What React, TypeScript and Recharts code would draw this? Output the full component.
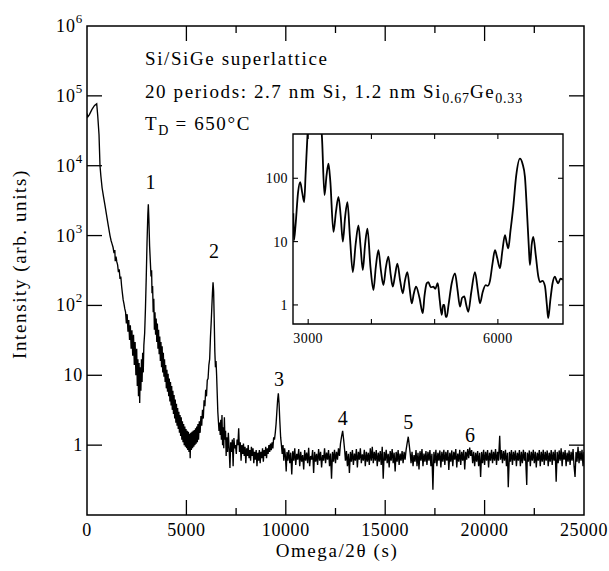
import React from 'react';
import { ComposedChart, Line, XAxis, YAxis, ReferenceArea, ReferenceDot } from 'recharts';

const SERIF = 'Liberation Serif, DejaVu Serif, serif';

// ---------------- Main scan: [omega/2theta (s), intensity (arb. units)] ----------------
const mainScan: [number, number][] = [
  [0, 56000], [40, 50000], [120, 54000], [250, 64000], [380, 73000], [488, 77000], [540, 52000], [604, 28000],
  [654, 10000], [700, 7000], [760, 4800], [830, 3600], [905, 2700], [980, 2000], [1060, 1450], [1157, 1000],
  [1210, 850], [1260, 760], [1310, 680], [1360, 560], [1400, 620], [1420, 430], [1460, 500], [1500, 420],
  [1540, 380], [1580, 300], [1620, 330], [1660, 240], [1700, 260], [1740, 190], [1780, 150], [1820, 120],
  [1860, 105], [1900, 90], [1940, 80], [1980, 55], [2020, 75], [2060, 42], [2100, 62], [2140, 32],
  [2180, 52], [2220, 24], [2260, 44], [2300, 19], [2340, 38], [2380, 14], [2420, 30], [2460, 10],
  [2500, 24], [2530, 7], [2560, 17], [2590, 5], [2620, 15], [2650, 4], [2680, 13], [2710, 6],
  [2740, 17], [2770, 8], [2800, 21], [2830, 11], [2860, 27], [2900, 40], [2940, 90], [2980, 250],
  [3020, 800], [3060, 2000], [3085, 2800], [3110, 1800], [3150, 700], [3190, 400], [3220, 260], [3250, 320],
  [3270, 150], [3300, 190], [3330, 80], [3360, 125], [3390, 45], [3420, 80], [3450, 38], [3480, 65],
  [3510, 30], [3540, 55], [3570, 24], [3600, 45], [3630, 20], [3660, 36], [3690, 16], [3720, 30],
  [3750, 13], [3780, 26], [3810, 11], [3840, 21], [3870, 9.5], [3900, 17], [3930, 8], [3960, 14],
  [3990, 6.5], [4020, 12], [4050, 5.8], [4080, 10.5], [4110, 5], [4140, 9], [4170, 4.2], [4200, 8],
  [4230, 3.7], [4260, 7], [4290, 3.2], [4320, 6], [4350, 2.8], [4380, 5.2], [4410, 2.4], [4440, 4.5],
  [4470, 2.1], [4500, 3.9], [4530, 1.9], [4560, 3.4], [4590, 1.7], [4620, 3.0], [4650, 1.5], [4680, 2.7],
  [4710, 1.35], [4740, 2.5], [4770, 1.2], [4800, 2.2], [4830, 1.1], [4860, 2.0], [4890, 1.0], [4920, 1.85],
  [4950, 0.95], [4980, 1.7], [5010, 0.9], [5040, 1.6], [5070, 0.85], [5100, 1.55], [5130, 0.8], [5160, 1.45],
  [5190, 0.65], [5220, 1.5], [5250, 0.85], [5280, 1.55], [5310, 0.9], [5340, 1.6], [5370, 0.95], [5400, 1.65],
  [5430, 1.0], [5460, 1.75], [5490, 1.05], [5520, 1.85], [5550, 1.1], [5580, 2.0], [5610, 1.2], [5650, 2.2],
  [5690, 1.5], [5730, 2.6], [5770, 1.9], [5810, 3.2], [5850, 2.4], [5890, 4.4], [5930, 3.6], [5970, 6.2],
  [6010, 5.0], [6050, 8.5], [6090, 9], [6130, 14], [6170, 17], [6210, 35], [6250, 60], [6280, 95],
  [6310, 150], [6340, 215], [6370, 160], [6400, 60], [6430, 22], [6460, 13], [6490, 16], [6520, 10],
  [6550, 5.5], [6580, 3], [6610, 2.2], [6640, 1.6], [6670, 2.1], [6700, 1.4], [6730, 2.3], [6760, 1.2],
  [6790, 2.7], [6820, 1.0], [6850, 1.8], [6880, 0.9], [6910, 2.5], [6940, 1.2], [6970, 1.6], [7000, 0.7],
  [7030, 1.3], [7070, 0.8], [7110, 1.5], [7150, 0.9], [7190, 0.47], [7230, 1.1], [7270, 0.8], [7310, 1.2],
  [7350, 0.5], [7390, 1.26], [7430, 0.9], [7470, 1.0], [7510, 0.75], [7550, 1.2], [7590, 1.0], [7630, 1.74],
  [7670, 0.8], [7710, 1.1], [7750, 0.6], [7790, 1.0], [7830, 0.75], [7870, 1.05], [7910, 0.7], [7950, 0.95],
  [7990, 0.55], [8030, 0.9], [8070, 0.7], [8110, 1.0], [8150, 0.65], [8190, 0.85], [8230, 0.6], [8270, 0.95],
  [8310, 0.7], [8350, 0.9], [8390, 0.55], [8430, 0.8], [8470, 0.62], [8510, 0.85], [8550, 0.5], [8590, 0.78],
  [8630, 0.6], [8670, 0.85], [8710, 0.55], [8750, 0.8], [8790, 0.65], [8830, 0.9], [8870, 0.58], [8910, 0.85],
  [8950, 0.7], [8990, 0.95], [9030, 0.65], [9070, 0.9], [9110, 0.75], [9150, 1.0], [9190, 0.8], [9230, 1.05],
  [9270, 0.85], [9310, 1.1], [9350, 0.9], [9390, 1.3], [9430, 1.2], [9470, 1.5], [9510, 2.0], [9550, 3.0],
  [9590, 4.5], [9625, 5.5], [9660, 4.0], [9700, 2.2], [9740, 1.3], [9780, 1.0], [9820, 0.75], [9860, 1.0],
  [9900, 0.6], [9940, 0.9], [9980, 0.7], [10020, 0.42], [10060, 0.8],
  [10100, 0.6], [10150, 0.85], [10200, 0.55], [10250, 0.78], [10300, 0.38], [10350, 0.82], [10400, 0.6], [10450, 0.9],
  [10500, 0.52], [10550, 0.75], [10600, 0.62], [10650, 0.88], [10700, 0.5], [10750, 0.8], [10800, 0.58], [10850, 0.72],
  [10900, 0.45], [10950, 0.85], [11000, 0.6], [11050, 0.78], [11100, 0.55], [11150, 0.92], [11200, 0.5], [11250, 0.7],
  [11300, 0.62], [11350, 0.85], [11400, 0.4], [11450, 0.8], [11500, 0.58], [11550, 0.75], [11600, 0.52], [11650, 0.88],
  [11700, 0.6], [11750, 0.8], [11800, 0.48], [11850, 0.72], [11900, 0.6], [11950, 0.9], [12000, 0.55], [12050, 0.78],
  [12100, 0.62], [12150, 0.85], [12200, 0.5], [12250, 0.76], [12300, 0.33], [12350, 0.8], [12400, 0.58], [12450, 0.86],
  [12500, 0.55], [12550, 0.8], [12600, 0.62], [12650, 0.9], [12700, 0.7], [12750, 1.05], [12800, 1.3], [12860, 1.6],
  [12910, 1.2], [12960, 0.85], [13000, 0.6], [13050, 0.82], [13100, 0.5], [13150, 0.75], [13200, 0.4], [13250, 0.8],
  [13300, 0.58], [13350, 0.85], [13400, 0.52], [13450, 0.76], [13500, 0.6], [13550, 0.88], [13600, 0.48], [13650, 0.8],
  [13700, 0.62], [13750, 0.9], [13800, 0.55], [13850, 0.74], [13900, 0.6], [13950, 0.86], [14000, 0.5], [14050, 0.8],
  [14100, 0.58], [14150, 0.78], [14200, 0.52], [14250, 0.9], [14300, 0.6], [14350, 0.95], [14400, 0.55], [14450, 0.8],
  [14500, 0.6], [14550, 0.85], [14600, 0.5], [14650, 0.78], [14700, 0.58], [14750, 0.82], [14800, 0.52], [14850, 0.95],
  [14900, 0.33], [14950, 0.8], [15000, 0.6], [15050, 0.86], [15100, 0.55], [15150, 0.75], [15200, 0.48], [15250, 0.82],
  [15300, 0.6], [15350, 0.88], [15400, 0.55], [15450, 0.78], [15500, 0.42], [15550, 0.8], [15600, 0.58], [15650, 0.85],
  [15700, 0.52], [15750, 0.76], [15800, 0.6], [15850, 0.82], [15900, 0.55], [15950, 0.8], [16000, 0.62], [16050, 0.85],
  [16100, 1.05], [16160, 1.32], [16210, 1.0], [16260, 0.75], [16300, 0.55], [16350, 0.8], [16400, 0.5], [16450, 0.72],
  [16500, 0.58], [16550, 0.85], [16600, 0.5], [16650, 0.78], [16700, 0.45], [16750, 0.82], [16800, 0.6], [16850, 0.88],
  [16900, 0.5], [16950, 0.76], [17000, 0.58], [17050, 0.82], [17100, 0.52], [17150, 0.8], [17200, 0.6], [17250, 0.85],
  [17300, 0.5], [17350, 0.75], [17400, 0.23], [17450, 0.8], [17500, 0.55], [17550, 0.86], [17600, 0.5], [17650, 0.78],
  [17700, 0.6], [17750, 0.84], [17800, 0.48], [17850, 0.8], [17900, 0.58], [17950, 0.86], [18000, 0.52], [18050, 0.8],
  [18100, 0.6], [18150, 0.85], [18200, 0.44], [18250, 0.78], [18300, 0.58], [18350, 0.84], [18400, 0.5], [18450, 0.8],
  [18500, 0.62], [18550, 0.88], [18600, 0.48], [18650, 0.76], [18700, 0.58], [18750, 0.86], [18800, 0.52], [18850, 0.8],
  [18900, 0.6], [18950, 0.85], [19000, 0.45], [19050, 0.8], [19100, 0.62], [19150, 0.88], [19200, 0.65], [19250, 0.92],
  [19300, 0.7], [19350, 0.85], [19400, 0.55], [19450, 0.8], [19500, 0.5], [19550, 0.78], [19600, 0.58], [19650, 0.82],
  [19700, 0.5], [19750, 0.78], [19800, 0.35], [19850, 0.8], [19900, 0.55], [19950, 0.86], [20000, 0.52], [20050, 0.8],
  [20100, 0.6], [20150, 0.85], [20200, 0.48], [20250, 0.78], [20300, 0.6], [20350, 0.86], [20400, 0.55], [20450, 0.8],
  [20500, 0.6], [20550, 0.88], [20600, 0.52], [20650, 0.8], [20700, 0.6], [20760, 1.36], [20800, 0.62], [20850, 0.85],
  [20900, 0.55], [20950, 0.82], [21000, 0.6], [21050, 0.86], [21100, 0.5], [21150, 0.78], [21190, 0.25], [21250, 0.8],
  [21300, 0.58], [21350, 0.85], [21400, 0.52], [21450, 0.8], [21500, 0.6], [21550, 0.84], [21600, 0.5], [21650, 0.78],
  [21700, 0.6], [21750, 0.85], [21800, 0.5], [21850, 0.8], [21900, 0.55], [21950, 0.86], [22000, 0.6], [22050, 0.8],
  [22120, 0.27], [22150, 0.78], [22200, 0.58], [22250, 0.84], [22300, 0.5], [22350, 0.8], [22400, 0.6], [22450, 0.86],
  [22500, 0.55], [22550, 0.8], [22600, 0.48], [22650, 0.78], [22700, 0.6], [22750, 0.85], [22800, 0.5], [22850, 0.8],
  [22900, 0.58], [22950, 0.86], [23000, 0.52], [23050, 0.8], [23100, 0.6], [23150, 0.84], [23200, 0.5], [23250, 0.78],
  [23300, 0.58], [23350, 0.85], [23400, 0.52], [23450, 0.8], [23500, 0.6], [23550, 0.86], [23600, 0.3], [23650, 0.8],
  [23700, 0.55], [23750, 0.84], [23800, 0.6], [23850, 0.9], [23900, 0.5], [23950, 0.8], [24000, 0.62], [24050, 0.85],
  [24100, 0.5], [24150, 0.78], [24200, 0.58], [24250, 0.84], [24300, 0.52], [24350, 0.8], [24400, 0.6], [24450, 0.88],
  [24500, 0.5], [24550, 0.35], [24600, 0.8], [24650, 0.58], [24700, 0.95], [24750, 0.55], [24800, 0.82], [24850, 0.6],
  [24900, 0.86], [24950, 0.5], [25000, 0.8],
];

// ---------------- Inset scan (zoom of 2760-7030 s) ----------------
const insetScan: [number, number][] = [
  [2765, 28], [2775, 10.5], [2800, 18], [2840, 60], [2874, 87], [2905, 60], [2937, 42], [2960, 120],
  [2990, 500], [3030, 1500], [3085, 2800], [3140, 1500], [3190, 700], [3216, 480], [3258, 54], [3290, 110],
  [3321, 170], [3350, 90], [3400, 14.2], [3440, 30], [3479, 51], [3515, 25], [3548, 10], [3585, 25],
  [3621, 42], [3660, 12], [3706, 3.3], [3750, 9], [3795, 18], [3830, 8], [3864, 3.55], [3900, 9],
  [3937, 16], [3985, 4], [4032, 1.72], [4070, 4], [4111, 7.3], [4150, 3.5], [4190, 2.06], [4230, 4],
  [4269, 5.8], [4305, 3], [4338, 1.94], [4375, 3], [4411, 4.5], [4455, 2.4], [4496, 1.53], [4530, 2.4],
  [4569, 3.3], [4605, 1.8], [4638, 1.06], [4670, 1.5], [4706, 1.94], [4760, 1.3], [4812, 0.74], [4840, 1.4],
  [4875, 2.2], [4900, 2.3], [4940, 1.9], [4979, 1.94], [5010, 1.8], [5049, 2.2], [5080, 1.2], [5112, 0.7],
  [5135, 1.0], [5153, 1.0], [5175, 0.65], [5191, 0.65], [5220, 1.0], [5270, 2.2], [5322, 3.15], [5360, 1.8],
  [5401, 0.94], [5435, 1.3], [5469, 1.36], [5500, 1.0], [5532, 0.78], [5580, 1.6], [5638, 3.3], [5680, 1.8],
  [5717, 1.06], [5760, 1.6], [5807, 2.05], [5840, 2.0], [5875, 2.4], [5915, 4.5], [5954, 7.3], [5990, 5.5],
  [6033, 3.8], [6070, 7], [6112, 12.6], [6140, 9.5], [6164, 7.8], [6200, 15], [6243, 35], [6290, 110],
  [6349, 204], [6390, 170], [6428, 105], [6460, 30], [6490, 8], [6507, 4.27], [6535, 9], [6560, 11.9],
  [6600, 6], [6640, 2.8], [6665, 2.3], [6705, 2.4], [6744, 2.0], [6775, 1.0], [6796, 0.62], [6830, 1.2],
  [6865, 2.2], [6902, 2.8], [6930, 2.4], [6954, 2.2], [6990, 2.6], [7025, 2.5],
];

// ---------------- Axes ----------------
const mainXDomain: [number, number] = [0, 25000];
const mainYDomain: [number, number] = [0.1, 1000000];
const mainXMajorTicks = [0, 5000, 10000, 15000, 20000, 25000];
const mainXMinorTicks = [7500, 12500, 17500, 22500];
const mainYTicks = [1, 10, 100, 1000, 10000, 100000, 1000000];
const mainYTickBase = ['1', '10', '10', '10', '10', '10', '10'];
const mainYTickExp = ['', '', '2', '3', '4', '5', '6'];

const insetXDomain: [number, number] = [2760, 7030];
const insetYDomain: [number, number] = [0.5, 500];
const insetXTicks = [3000, 4000, 5000, 6000];
const insetXLabeled = [3000, 6000];
const insetYTicks = [1, 10, 100];
const insetYTickLabels = ['1', '10', '100'];

// ---------------- Peak order labels ----------------
const peakOrders = ['1', '2', '3', '4', '5', '6'];
const peakOmega = [3200, 6388, 9658, 12862, 16162, 19265];
const peakLabelLevel = [5790, 611, 8.97, 2.41, 2.16, 1.39];

// ---------------- Layout ----------------
const W = 609;
const H = 571;
const M_LEFT = 87, M_RIGHT = 584, M_TOP = 26, M_BOTTOM = 515;
const M_PW = M_RIGHT - M_LEFT;
const M_PH = M_BOTTOM - M_TOP;

const I_BOX = { left: 240, top: 120, width: 340, height: 240 };
const I_LEFT = 293, I_RIGHT = 563, I_TOP = 134, I_BOTTOM = 324;
const I_PW = I_RIGHT - I_LEFT;
const I_PH = I_BOTTOM - I_TOP;

const mainData = mainScan.map(([omega, intensity]) => ({ omega, intensity }));
const insetData = insetScan.map(([omega, intensity]) => ({ omega, intensity }));

const txt = (size: number, spacing: number) => ({ fontFamily: SERIF, fontSize: size, letterSpacing: spacing });

const MainXTick = (props: any) => {
  const { x, y, payload } = props;
  const v = payload.value;
  const major = mainXMajorTicks.includes(v);
  const edge = v === mainXDomain[0] || v === mainXDomain[1];
  const len = major ? 15 : 7;
  return (
    <g>
      {!edge && <line x1={x} x2={x} y1={y} y2={y - len} stroke="#000" strokeWidth={1.3} />}
      {!edge && <line x1={x} x2={x} y1={y - M_PH} y2={y - M_PH + len} stroke="#000" strokeWidth={1.3} />}
      {major && (
        <text x={x} y={y + 21} textAnchor="middle" style={txt(18, 0.6)} fill="#000">
          {String(v)}
        </text>
      )}
    </g>
  );
};

const MainYTick = (props: any) => {
  const { x, y, payload } = props;
  const idx = mainYTicks.indexOf(payload.value);
  const base = mainYTickBase[idx];
  const exp = mainYTickExp[idx];
  const edge = payload.value === mainYDomain[1];
  return (
    <g>
      {!edge && <line x1={x} x2={x + 15} y1={y} y2={y} stroke="#000" strokeWidth={1.3} />}
      {!edge && <line x1={x + M_PW - 15} x2={x + M_PW} y1={y} y2={y} stroke="#000" strokeWidth={1.3} />}
      <text x={x - 4} y={y + 6} textAnchor="end" style={txt(18, 0.8)} fill="#000">
        {base}
        {exp ? (
          <tspan dy={-9} style={{ fontSize: 13 }}>
            {exp}
          </tspan>
        ) : null}
      </text>
    </g>
  );
};

const InsetXTick = (props: any) => {
  const { x, y, payload } = props;
  const v = payload.value;
  return (
    <g>
      <line x1={x} x2={x} y1={y} y2={y - 5} stroke="#000" strokeWidth={1.1} />
      <line x1={x} x2={x} y1={y - I_PH} y2={y - I_PH + 5} stroke="#000" strokeWidth={1.1} />
      {insetXLabeled.includes(v) && (
        <text x={x} y={y + 19} textAnchor="middle" style={txt(14, 0.4)} fill="#000">
          {String(v)}
        </text>
      )}
    </g>
  );
};

const InsetYTick = (props: any) => {
  const { x, y, payload } = props;
  const idx = insetYTicks.indexOf(payload.value);
  return (
    <g>
      <line x1={x} x2={x + 5} y1={y} y2={y} stroke="#000" strokeWidth={1.1} />
      <line x1={x + I_PW - 5} x2={x + I_PW} y1={y} y2={y} stroke="#000" strokeWidth={1.1} />
      <text x={x - 5} y={y + 5} textAnchor="end" style={txt(14, 0.4)} fill="#000">
        {insetYTickLabels[idx]}
      </text>
    </g>
  );
};

const peakLabelShape = (label: string) => (p: any) => (
  <text x={p.cx} y={p.cy + 7} textAnchor="middle" style={txt(20, 0)} fill="#000">
    {label}
  </text>
);

export default function App() {
  return (
    <div style={{ position: 'absolute', left: 0, top: 0, width: W, height: H, background: '#fff' }}>
      <div style={{ position: 'absolute', left: 0, top: 0 }}>
        <ComposedChart
          width={W}
          height={H}
          data={mainData}
          margin={{ top: M_TOP, right: W - M_RIGHT, bottom: H - M_BOTTOM - 30, left: M_LEFT - 60 }}
        >
          <XAxis
            dataKey="omega"
            type="number"
            domain={mainXDomain}
            allowDataOverflow
            ticks={[...mainXMajorTicks, ...mainXMinorTicks].sort((a, b) => a - b)}
            interval={0}
            height={30}
            tickSize={0}
            tickMargin={0}
            axisLine={false}
            tickLine={false}
            tick={(p: any) => <MainXTick {...p} />}
          />
          <YAxis
            type="number"
            scale="log"
            domain={mainYDomain}
            allowDataOverflow
            ticks={mainYTicks}
            interval={0}
            width={60}
            tickSize={0}
            tickMargin={0}
            axisLine={false}
            tickLine={false}
            tick={(p: any) => <MainYTick {...p} />}
          />
          <ReferenceArea
            x1={mainXDomain[0]}
            x2={mainXDomain[1]}
            y1={mainYDomain[0]}
            y2={mainYDomain[1]}
            fill="none"
            fillOpacity={0}
            stroke="#000"
            strokeWidth={1.5}
          />
          <Line
            dataKey="intensity"
            type="linear"
            stroke="#000"
            strokeWidth={1.35}
            dot={false}
            isAnimationActive={false}
          />
          {peakOrders.map((label, i) => (
            <ReferenceDot
              key={label}
              x={peakOmega[i]}
              y={peakLabelLevel[i]}
              r={1}
              shape={peakLabelShape(label)}
            />
          ))}
        </ComposedChart>
      </div>

      <div style={{ position: 'absolute', left: I_BOX.left, top: I_BOX.top }}>
        <ComposedChart
          width={I_BOX.width}
          height={I_BOX.height}
          data={insetData}
          margin={{
            top: I_TOP - I_BOX.top,
            right: I_BOX.left + I_BOX.width - I_RIGHT,
            bottom: I_BOX.top + I_BOX.height - I_BOTTOM - 30,
            left: I_LEFT - I_BOX.left - 40,
          }}
        >
          <XAxis
            dataKey="omega"
            type="number"
            domain={insetXDomain}
            allowDataOverflow
            ticks={insetXTicks}
            interval={0}
            height={30}
            tickSize={0}
            tickMargin={0}
            axisLine={false}
            tickLine={false}
            tick={(p: any) => <InsetXTick {...p} />}
          />
          <YAxis
            type="number"
            scale="log"
            domain={insetYDomain}
            allowDataOverflow
            ticks={insetYTicks}
            interval={0}
            width={40}
            tickSize={0}
            tickMargin={0}
            axisLine={false}
            tickLine={false}
            tick={(p: any) => <InsetYTick {...p} />}
          />
          <ReferenceArea
            x1={insetXDomain[0]}
            x2={insetXDomain[1]}
            y1={insetYDomain[0]}
            y2={insetYDomain[1]}
            fill="none"
            fillOpacity={0}
            stroke="#000"
            strokeWidth={1.4}
          />
          <Line
            dataKey="intensity"
            type="monotone"
            stroke="#000"
            strokeWidth={1.8}
            dot={false}
            isAnimationActive={false}
          />
        </ComposedChart>
      </div>

      <svg width={W} height={H} style={{ position: 'absolute', left: 0, top: 0, pointerEvents: 'none' }}>
        <text x={145} y={65} style={txt(19, 1.6)} fill="#000">
          Si/SiGe superlattice
        </text>
        <text x={145} y={97.5} style={txt(19, 1.6)} fill="#000">
          20 periods: 2.7 nm Si, 1.2 nm Si
          <tspan dy={5} style={{ fontSize: 14, letterSpacing: 0.8 }}>0.67</tspan>
          <tspan dy={-5}>Ge</tspan>
          <tspan dy={5} style={{ fontSize: 14, letterSpacing: 0.8 }}>0.33</tspan>
        </text>
        <text x={145} y={130} style={txt(19, 1.6)} fill="#000">
          T<tspan dy={5} style={{ fontSize: 14, letterSpacing: 0.8 }}>D</tspan>
          <tspan dy={-5}> = 650°C</tspan>
        </text>
        <text x={337} y={557} style={txt(19, 1.6)} textAnchor="middle" fill="#000">
          Omega/2θ (s)
        </text>
        <text x={26} y={264} style={txt(19, 1.6)} textAnchor="middle" transform="rotate(-90 26 264)" fill="#000">
          Intensity (arb. units)
        </text>
      </svg>
    </div>
  );
}
